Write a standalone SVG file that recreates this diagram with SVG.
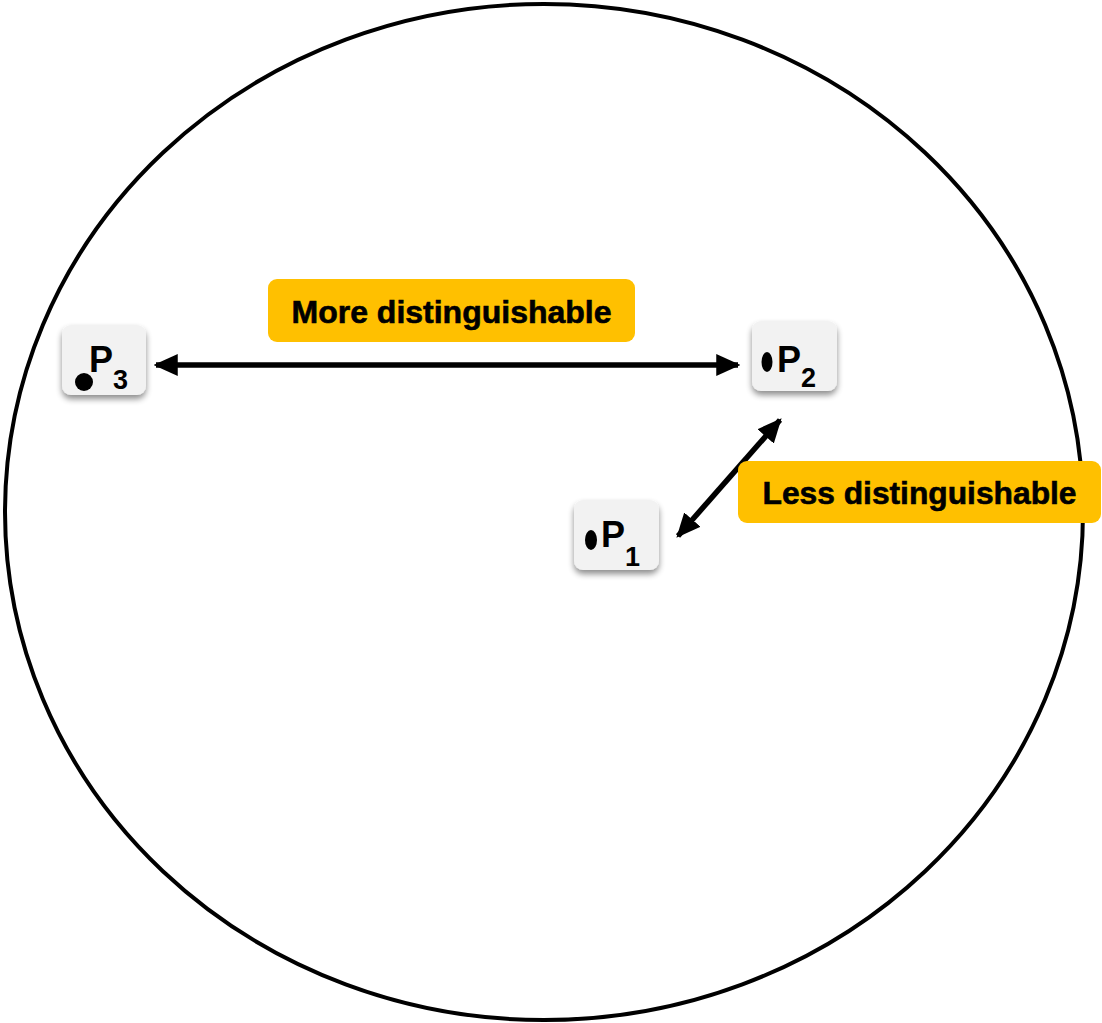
<svg xmlns="http://www.w3.org/2000/svg" width="1102" height="1023" viewBox="0 0 1102 1023">
<style>
.lbl{fill:#ffc000}
.lt{font-family:"Liberation Sans",Arial,sans-serif;font-weight:bold;font-size:31px;fill:#000;stroke:#000;stroke-width:0.6}
.node{fill:#f2f2f2}
.nt{font-family:"Liberation Sans",Arial,sans-serif;font-weight:bold;font-size:36px;fill:#000}
.sub{font-size:27px}
.conn{stroke:#000;stroke-width:5.5;fill:none}
</style>
<defs>
<filter id="sh" x="-20%" y="-20%" width="140%" height="150%">
<feGaussianBlur in="SourceAlpha" stdDeviation="3"/>
<feOffset dx="0" dy="4" result="b"/>
<feComponentTransfer><feFuncA type="linear" slope="0.45"/></feComponentTransfer>
<feMerge><feMergeNode/><feMergeNode in="SourceGraphic"/></feMerge>
</filter>
<marker id="ah" viewBox="0 0 10 10" refX="9" refY="5" markerWidth="4.4" markerHeight="4.4" orient="auto-start-reverse" markerUnits="strokeWidth">
<path d="M0,0.5 L10,5 L0,9.5 Z" fill="#000"/>
</marker>
</defs>
<rect width="1102" height="1023" fill="#fff"/>
<ellipse cx="544" cy="512" rx="539" ry="508" fill="none" stroke="#000" stroke-width="4"/>
<g id="connectors">
<line class="conn" x1="156" y1="365" x2="738" y2="365" marker-start="url(#ah)" marker-end="url(#ah)"/>
<line class="conn" x1="678" y1="536" x2="780" y2="420" marker-start="url(#ah)" marker-end="url(#ah)"/>
</g>
<g id="label-more">
<rect class="lbl" x="268" y="279" width="367" height="63" rx="9"/>
<text class="lt" x="451.5" y="323" text-anchor="middle" textLength="320" lengthAdjust="spacingAndGlyphs">More distinguishable</text>
</g>
<g id="label-less">
<rect class="lbl" x="738" y="461" width="363" height="62" rx="9"/>
<text class="lt" x="919.5" y="504" text-anchor="middle" textLength="314" lengthAdjust="spacingAndGlyphs">Less distinguishable</text>
</g>
<g id="node-p3">
<rect class="node" x="62" y="325" width="84" height="70" rx="9" filter="url(#sh)"/>
<circle cx="84" cy="382" r="9" fill="#000"/>
<text class="nt" x="89" y="372">P<tspan class="sub" dy="17">3</tspan></text>
</g>
<g id="node-p2">
<rect class="node" x="752" y="321" width="85" height="70" rx="9" filter="url(#sh)"/>
<ellipse cx="767" cy="362" rx="5.5" ry="10" fill="#000"/>
<text class="nt" x="777" y="372">P<tspan class="sub" dy="15">2</tspan></text>
</g>
<g id="node-p1">
<rect class="node" x="574" y="500" width="85" height="70" rx="9" filter="url(#sh)"/>
<ellipse cx="591" cy="540" rx="6" ry="10" fill="#000"/>
<text class="nt" x="601" y="547">P<tspan class="sub" dy="19">1</tspan></text>
</g>
</svg>
